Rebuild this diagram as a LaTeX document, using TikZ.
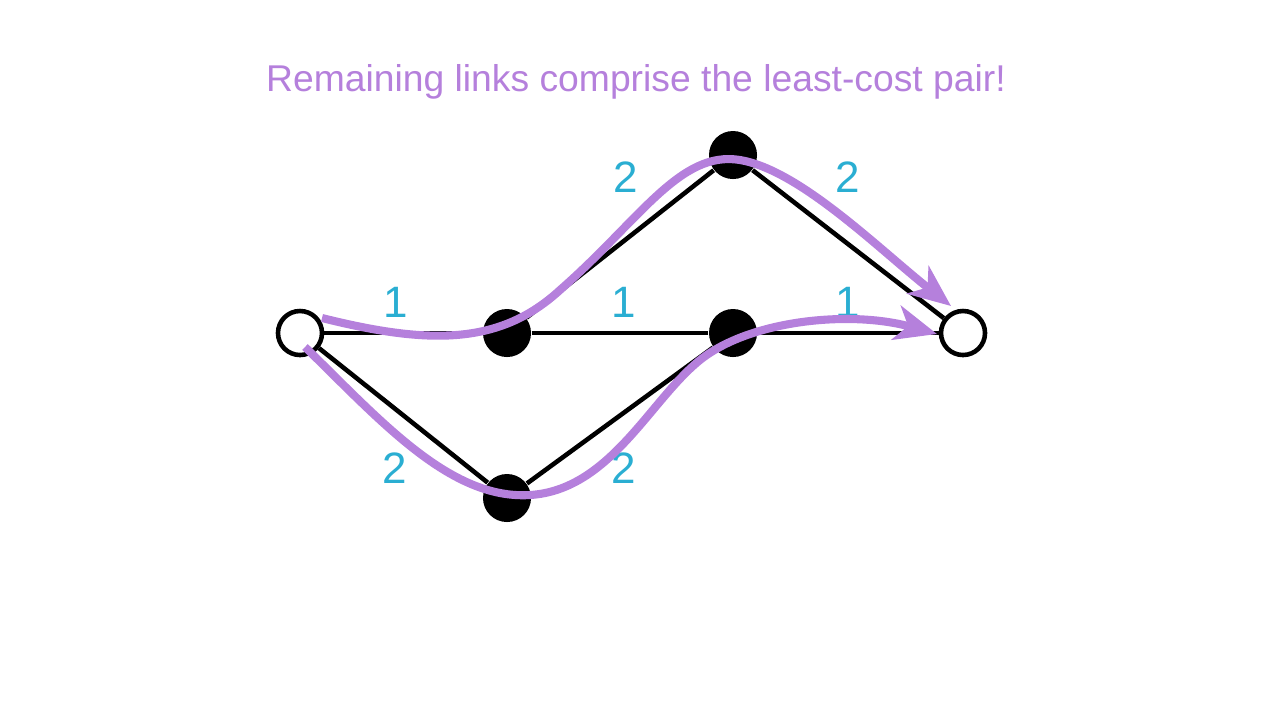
\documentclass[tikz,border=0pt]{standalone}
\usepackage{fontspec}
\setmainfont{Liberation Sans}
\usetikzlibrary{arrows.meta}
\definecolor{pathpurple}{HTML}{B580DC}
\definecolor{costblue}{HTML}{2AAED2}
\tikzset{
  endpt/.style={circle,draw=black,fill=white,line width=1.3pt,minimum size=0.44cm,inner sep=0pt},
  midpt/.style={circle,fill=black,minimum size=0.48cm,inner sep=0pt},
  link/.style={line width=1.3pt},
  cost/.style={text=costblue,font=\fontsize{12.5}{14}\selectfont},
  pairpath/.style={pathpurple,line width=2.3pt,-{Stealth[length=12pt,width=10pt,inset=3.5pt]}}
}
\begin{document}
\begin{tikzpicture}[x=0.01cm,y=-0.01cm]
	\useasboundingbox (0,0) rectangle (1280,720);

	\node[text=pathpurple,font=\fontsize{10.6}{13}\selectfont] (title) at (636,82) {Remaining links comprise the least-cost pair!};

	\node[endpt] (s) at (300,333) {};
	\node[midpt] (a) at (507,333) {};
	\node[midpt] (b) at (733,155) {};
	\node[midpt] (c) at (733,333) {};
	\node[midpt] (d) at (507,498) {};
	\node[endpt] (t) at (963,333) {}; % sink

	\foreach \u/\v in {s/a,s/d,a/b,a/c,b/t,c/t,d/c}
		\draw[link] (\u)--(\v);

	\node[cost] (ab) at (626,177) {2};
	\node[cost] (bt) at (848,177) {2};
	\node[cost] (sa) at (396,302) {1};
	\node[cost] (ac) at (624,302) {1};
	\node[cost] (ct) at (848,302) {1};
	\node[cost] (sd) at (395,468) {2};
	\node[cost] (dc) at (624,468) {2};

	\coordinate (p1) at (322,318);
	\coordinate (q1) at (951,306);
	\coordinate (p2) at (305,347);
	\coordinate (q2) at (937,334);

	\draw[pairpath] (p1) .. controls (430,345) and (500,345) .. (560,290)
		.. controls (640,220) and (680,150) .. (740,160)
		.. controls (800,170) and (880,250) .. (q1);
	\draw[pairpath] (p2) .. controls (380,420) and (450,500) .. (530,495)
		.. controls (610,490) and (650,400) .. (700,360)
		.. controls (750,320) and (850,310) .. (q2);
\end{tikzpicture}
\end{document}
